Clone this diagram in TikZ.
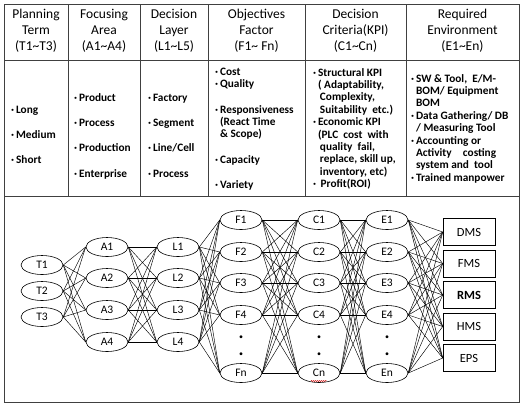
\documentclass[tikz,border=0pt]{standalone}
\usepackage{fontspec}
\setmainfont{Carlito}
\usetikzlibrary{shapes.geometric,decorations.pathmorphing}
\newcommand{\bul}{\textperiodcentered\,}
\newcommand{\hang}{\hphantom{\bul}}
\tikzset{
  grid/.style={line width=0.8pt,black!75},
  head/.style={align=center,inner sep=0pt,font=\fontsize{13.5}{16}\selectfont},
  body/.style={align=left,anchor=base west,inner sep=0pt,font=\bfseries\fontsize{11.3}{12.4}\selectfont},
  bodyblock/.style={body,anchor=north west},
  ell/.style={draw,ellipse,line width=0.6pt,minimum width=42pt,minimum height=19pt,inner sep=0pt,font=\fontsize{11.5}{13}\selectfont},
  sysbox/.style={draw,rectangle,line width=0.6pt,minimum width=52pt,minimum height=27pt,inner sep=0pt,font=\fontsize{12.5}{14}\selectfont},
  link/.style={line width=0.45pt},
  vdot/.style={inner sep=0pt,font=\fontsize{8}{10}\selectfont}
}
\begin{document}
\begin{tikzpicture}[x=1pt,y=-1pt]
  \useasboundingbox (0,0) rectangle (524,408);
  % table and frame
  \draw[grid] (4,4) rectangle (519,402);
  \draw[grid] (4,60) -- (519,60);
  \draw[grid] (4,196) -- (519,196);
  \draw[grid] (68,4) -- (68,196);
  \draw[grid] (140,4) -- (140,196);
  \draw[grid] (208,4) -- (208,196);
  \draw[grid] (305,4) -- (305,196);
  \draw[grid] (406,4) -- (406,196);
  % headers
  \node[head] (hT) at (36,31) {Planning\\Term\\(T1\textasciitilde T3)};
  \node[head] (hA) at (104,31) {Focusing\\Area\\(A1\textasciitilde A4)};
  \node[head] (hL) at (174,31) {Decision\\Layer\\(L1\textasciitilde L5)};
  \node[head] (hF) at (256.5,31) {Objectives\\Factor\\(F1\textasciitilde\ Fn)};
  \node[head] (hC) at (355.5,31) {Decision\\Criteria(KPI)\\(C1\textasciitilde Cn)};
  \node[head] (hE) at (462.5,31) {Required\\Environment\\(E1\textasciitilde En)};
  % body cells
  \node[body] (bT1) at (11,113) {\bul Long};
  \node[body] (bT2) at (11,138) {\bul Medium};
  \node[body] (bT3) at (11,163) {\bul Short};
  \node[body] (bA1) at (74,101) {\bul Product};
  \node[body] (bA2) at (74,126) {\bul Process};
  \node[body] (bA3) at (74,151) {\bul Production};
  \node[body] (bA4) at (74,177) {\bul Enterprise};
  \node[body] (bL1) at (148,101) {\bul Factory};
  \node[body] (bL2) at (148,126) {\bul Segment};
  \node[body] (bL3) at (148,151) {\bul Line/Cell};
  \node[body] (bL4) at (148,177) {\bul Process};
  \node[body] (bF1) at (215,75) {\bul Cost};
  \node[body] (bF2) at (215,87) {\bul Quality};
  \node[bodyblock] (bF3) at (215,105) {\bul Responsiveness\\\hang(React Time\\\hang\& Scope)};
  \node[body] (bF4) at (215,163) {\bul Capacity};
  \node[body] (bF5) at (215,188) {\bul Variety};
  \node[bodyblock] (bC) at (313,68) {\bul Structural KPI\\
    \hang( Adaptability,\\
    \hang\,Complexity,\\
    \hang\,Suitability\ \ etc.)\\
    \bul Economic KPI\\
    \hang(PLC\ \ cost\ \ with\\
    \hang\,quality\ \ fail,\\
    \hang\,replace, skill up,\\
    \hang\,inventory, etc)\\
    \bul\ Profit(ROI)};
  \node[bodyblock] (bE) at (411,74) {\bul SW \& Tool,\ \ E/M-\\
    \hang BOM/ Equipment\\
    \hang BOM\\
    \bul Data Gathering/ DB\\
    \hang/ Measuring Tool\\
    \bul Accounting or\\
    \hang Activity\quad costing\\
    \hang system and\ \ tool\\
    \bul Trained manpower};
  % network
  \node[ell] (T1) at (42,265) {T1};
  \node[ell] (T2) at (42,291) {T2};
  \node[ell] (T3) at (42,317) {T3};
  \node[ell] (A1) at (107,247) {A1};
  \node[ell] (A2) at (107,278) {A2};
  \node[ell] (A3) at (107,310) {A3};
  \node[ell] (A4) at (107,342) {A4};
  \node[ell] (L1) at (178,247) {L1};
  \node[ell] (L2) at (178,278) {L2};
  \node[ell] (L3) at (178,310) {L3};
  \node[ell] (L4) at (178,342) {L4};
  \node[ell] (F1) at (241,220) {F1};
  \node[ell] (F2) at (241,252) {F2};
  \node[ell] (F3) at (241,283) {F3};
  \node[ell] (F4) at (241,315) {F4};
  \node[vdot] (Fd1) at (241,338) {\textbullet};
  \node[vdot] (Fd2) at (241,355) {\textbullet};
  \node[ell] (Fn) at (241,373) {Fn};
  \node[ell] (C1) at (319,220) {C1};
  \node[ell] (C2) at (319,252) {C2};
  \node[ell] (C3) at (319,283) {C3};
  \node[ell] (C4) at (319,315) {C4};
  \node[vdot] (Cd1) at (319,338) {\textbullet};
  \node[vdot] (Cd2) at (319,355) {\textbullet};
  \node[ell] (Cn) at (319,373) {Cn};
  \node[ell] (E1) at (387,220) {E1};
  \node[ell] (E2) at (387,252) {E2};
  \node[ell] (E3) at (387,283) {E3};
  \node[ell] (E4) at (387,315) {E4};
  \node[vdot] (Ed1) at (387,338) {\textbullet};
  \node[vdot] (Ed2) at (387,355) {\textbullet};
  \node[ell] (En) at (387,373) {En};
  \node[sysbox] (DMS) at (469,232) {DMS};
  \node[sysbox] (FMS) at (469,263.5) {FMS};
  \node[sysbox] (RMS) at (469,295) {\bfseries RMS};
  \node[sysbox] (HMS) at (469,326.5) {HMS};
  \node[sysbox] (EPS) at (469,358) {EPS};
  \draw[red!80!black,line width=0.4pt,decorate,decoration={snake,amplitude=0.6pt,segment length=2pt}]
    ([shift={(-8,8)}]Cn.center) -- ([shift={(8,8)}]Cn.center);
  % connectors
  \foreach \a in {T1,T2,T3}
    \foreach \b in {A1,A2,A3,A4}
      \draw[link] (\a.east) -- (\b.west);
  \foreach \a in {A1,A2,A3,A4}
    \foreach \b in {L1,L2,L3,L4}
      \draw[link] (\a.east) -- (\b.west);
  \foreach \a in {L1,L2,L3,L4}
    \foreach \b in {F1,F2,F3,F4,Fn}
      \draw[link] (\a.east) -- (\b.west);
  \foreach \a in {F1,F2,F3,F4,Fn}
    \foreach \b in {C1,C2,C3,C4,Cn}
      \draw[link] (\a.east) -- (\b.west);
  \foreach \a in {C1,C2,C3,C4,Cn}
    \foreach \b in {E1,E2,E3,E4,En}
      \draw[link] (\a.east) -- (\b.west);
  \foreach \a in {E1,E2,E3,E4,En}
    \foreach \b in {DMS,FMS,RMS,HMS,EPS}
      \draw[link] (\a.east) -- (\b.west);
\end{tikzpicture}
\end{document}
